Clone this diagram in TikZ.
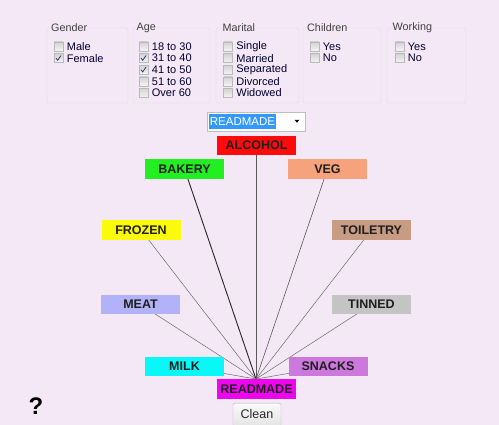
\documentclass[tikz,border=0pt]{standalone}
\usepackage{fontspec}
\setmainfont{Liberation Sans}
\usetikzlibrary{calc}
\definecolor{panel}{HTML}{F4E8F6}
\definecolor{frameline}{HTML}{E2D4E4}
\definecolor{cAlcohol}{HTML}{FF0A0A}
\definecolor{cBakery}{HTML}{22EE22}
\definecolor{cVeg}{HTML}{F6A27C}
\definecolor{cFrozen}{HTML}{FAFA0A}
\definecolor{cToiletry}{HTML}{C89C82}
\definecolor{cMeat}{HTML}{B2B2F8}
\definecolor{cTinned}{HTML}{C4C4C4}
\definecolor{cMilk}{HTML}{08F8F8}
\definecolor{cSnacks}{HTML}{CC78DC}
\definecolor{cReady}{HTML}{EE06EE}
\definecolor{selblue}{HTML}{3399FF}
\definecolor{tick}{HTML}{2A3A80}
\pgfdeclarelayer{back}
\pgfdeclarelayer{links}
\pgfsetlayers{back,links,main}
\tikzset{
  cat/.style={minimum width=79pt, minimum height=19.5pt, inner sep=0pt,
    font=\fontsize{12.5}{13}\selectfont\bfseries, text=black!88},
  grp/.style={draw=frameline, rounded corners=2pt},
  grplabel/.style={fill=panel, inner sep=1pt, anchor=west,
    font=\fontsize{10.8}{12}\selectfont, text=black!75},
  cbox/.style={draw=gray!55, top color=gray!35, bottom color=gray!8,
    minimum size=9pt, inner sep=0pt},
  cblabel/.style={anchor=west, inner sep=0pt,
    font=\fontsize{11}{12}\selectfont, text=black!82!blue},
  link/.style={draw=gray!75!black, line width=0.45pt},
  strong/.style={draw=black!85, line width=0.9pt},
  medium/.style={draw=black!65, line width=0.6pt},
}
\newcommand{\checkrow}[5]{% name, x of box, y, label, checked (1/0)
  \node[cbox] (#1) at (#2,#3) {};
  \node[cblabel] (#1-t) at ($(#1.east)+(3.5,0)$) {#4};
  \ifnum#5=1
    \draw[tick, line width=0.8pt] ($(#1.center)+(-2.5,0)$) -- ($(#1.center)+(-0.8,2.2)$) -- ($(#1.center)+(2.5,-2.6)$);
  \fi
}
\begin{document}
\begin{tikzpicture}[x=1pt,y=-1pt]
\useasboundingbox (0,0) rectangle (499,425);
\begin{pgfonlayer}{back}
  \fill[panel] (0,0) rectangle (499,425);
\end{pgfonlayer}

% filter group boxes
\draw[grp] (47,28) rectangle (128,103);
\draw[grp] (133,28) rectangle (210,103);
\draw[grp] (216,28) rectangle (299,103);
\draw[grp] (303,28) rectangle (381,103);
\draw[grp] (387,28) rectangle (466,103);
\node[grplabel] (lgender) at (50,28) {Gender};
\node[grplabel] (lage) at (135.5,28) {Age};
\node[grplabel] (lmarital) at (221.5,28) {Marital};
\node[grplabel] (lchildren) at (306,28) {Children};
\node[grplabel] (lworking) at (391.5,28) {Working};

\checkrow{g1}{58.5}{46.5}{Male}{0}
\checkrow{g2}{58.5}{58.1}{Female}{1}

\checkrow{a1}{143.5}{46.5}{18 to 30}{0}
\checkrow{a2}{143.5}{58.1}{31 to 40}{1}
\checkrow{a3}{143.5}{69.7}{41 to 50}{1}
\checkrow{a4}{143.5}{81.3}{51 to 60}{0}
\checkrow{a5}{143.5}{92.9}{Over 60}{0}

\checkrow{m1}{228}{46.5}{Single}{0}
\checkrow{m2}{228}{58.1}{Married}{0}
\checkrow{m3}{228}{69.7}{Separated}{0}
\checkrow{m4}{228}{81.3}{Divorced}{0}
\checkrow{m5}{228}{92.9}{Widowed}{0}

\checkrow{c1}{314.5}{46.5}{Yes}{0}
\checkrow{c2}{314.5}{58.1}{No}{0}

\checkrow{w1}{399.5}{46.5}{Yes}{0}
\checkrow{w2}{399.5}{58.1}{No}{0}

% category selector
\node[draw=gray!50, fill=white, minimum width=98pt, minimum height=19pt, inner sep=0pt] (combo) at (256,121.5) {};
\node[fill=selblue, text=white, minimum width=67pt, minimum height=15pt, inner sep=0pt,
  font=\fontsize{11.5}{12}\selectfont] (combosel) at (242.5,121.5) {READMADE};
\fill[black] (294.5,119.8) -- (299.5,119.8) -- (297,122.6) -- cycle;

% category nodes
\node[cat, fill=cAlcohol]  (alcohol)  at (256.5,145.5) {ALCOHOL};
\node[cat, fill=cBakery]   (bakery)   at (184.5,169)   {BAKERY};
\node[cat, fill=cVeg]      (veg)      at (327.5,169)   {VEG};
\node[cat, fill=cFrozen]   (frozen)   at (141,230)     {FROZEN};
\node[cat, fill=cToiletry] (toiletry) at (371.5,230)   {TOILETRY};
\node[cat, fill=cMeat]     (meat)     at (140.5,304.5) {MEAT};
\node[cat, fill=cTinned]   (tinned)   at (371.5,304.5) {TINNED};
\node[cat, fill=cMilk]     (milk)     at (184.5,366.5) {MILK};
\node[cat, fill=cSnacks]   (snacks)   at (328,366.5)   {SNACKS};
\node[cat, fill=cReady]    (ready)    at (256.5,389)   {READMADE};

% links to the selected category
\begin{pgfonlayer}{links}
  \coordinate (hub) at ($(ready.north)+(-0.5,0)$);
  \coordinate (atop) at ($(alcohol.center)+(-0.5,0)$);
  \draw[medium] (atop) -- (hub);
  \draw[strong] (bakery.center) -- (hub);
  \draw[medium] (veg.center) -- (hub);
  \draw[link] (frozen.center) -- (hub);
  \draw[link] (toiletry.center) -- (hub);
  \draw[link] (meat.center) -- (hub);
  \draw[link] (tinned.center) -- (hub);
  \draw[link] (milk.center) -- (hub);
  \draw[link] (snacks.center) -- (hub);
\end{pgfonlayer}

% buttons
\node[draw=gray!60, rounded corners=2pt, top color=gray!4, bottom color=gray!22,
  minimum width=48pt, minimum height=24pt, inner sep=0pt, anchor=north,
  font=\fontsize{12.5}{13}\selectfont, text=black!85] (clean) at (257,403) {\raisebox{1.5pt}{Clean}};
\node[font=\fontsize{24}{24}\selectfont\bfseries, inner sep=0pt] (help) at (36,406) {?};
\end{tikzpicture}
\end{document}
